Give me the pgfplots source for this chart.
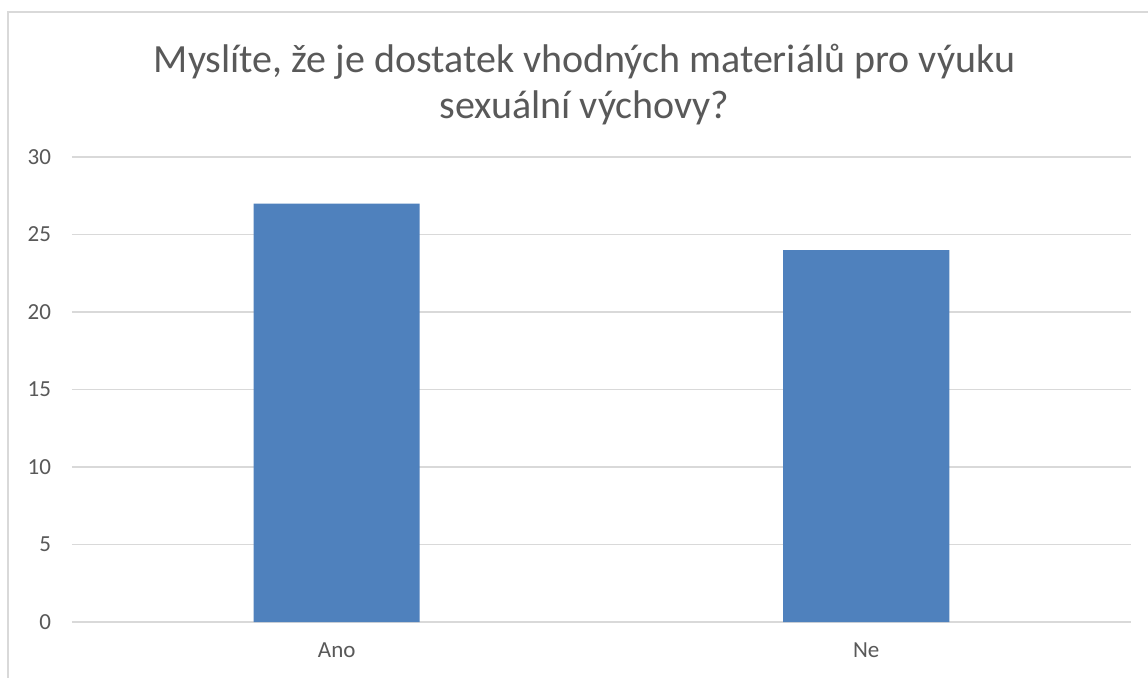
\documentclass[border=0pt]{standalone}
\usepackage{fontspec}
\setmainfont{Carlito}
\usepackage{pgfplots}
\pgfplotsset{compat=1.18}
\definecolor{barblue}{HTML}{4F81BD}
\definecolor{gridgray}{HTML}{D9D9D9}
\definecolor{txtgray}{HTML}{595959}
\begin{document}
\begin{tikzpicture}
% page = 1148 x 677 px at 0.5pt per px; axis origin at px (72,622)
\useasboundingbox (-36pt,-27.5pt) rectangle (538pt,311pt);
\fill[white] (-36pt,-27.5pt) rectangle (538pt,311pt);
\draw[gridgray, line width=1pt] (-32pt,-40pt) -- (-32pt,305pt) -- (560pt,305pt);
\begin{axis}[
  at={(0,0)}, anchor=south west,
  scale only axis,
  width=529.5pt, height=232.5pt,
  xmin=-0.5, xmax=1.5,
  ymin=0, ymax=30,
  ytick={0,5,...,30},
  xtick={0,1},
  xticklabels={Ano,Ne},
  axis line style={draw=none},
  major tick length=0pt,
  ymajorgrids,
  grid style={gridgray, line width=0.75pt},
  ticklabel style={font=\fontsize{11.5}{13}\selectfont, text=txtgray},
  yticklabel style={xshift=-7pt},
  xticklabel style={yshift=-7pt},
  /pgf/number format/assume math mode=true,
]
\addplot[ybar, bar width=83pt, fill=barblue, draw=none] coordinates {(0,27) (1,24)};
\end{axis}
\node[align=center, text=txtgray, font=\fontsize{20}{23}\selectfont]
  at (256.25pt,268.5pt) {Myslíte, že je dostatek vhodných materiálů pro výuku\\sexuální výchovy?};
\end{tikzpicture}
\end{document}
